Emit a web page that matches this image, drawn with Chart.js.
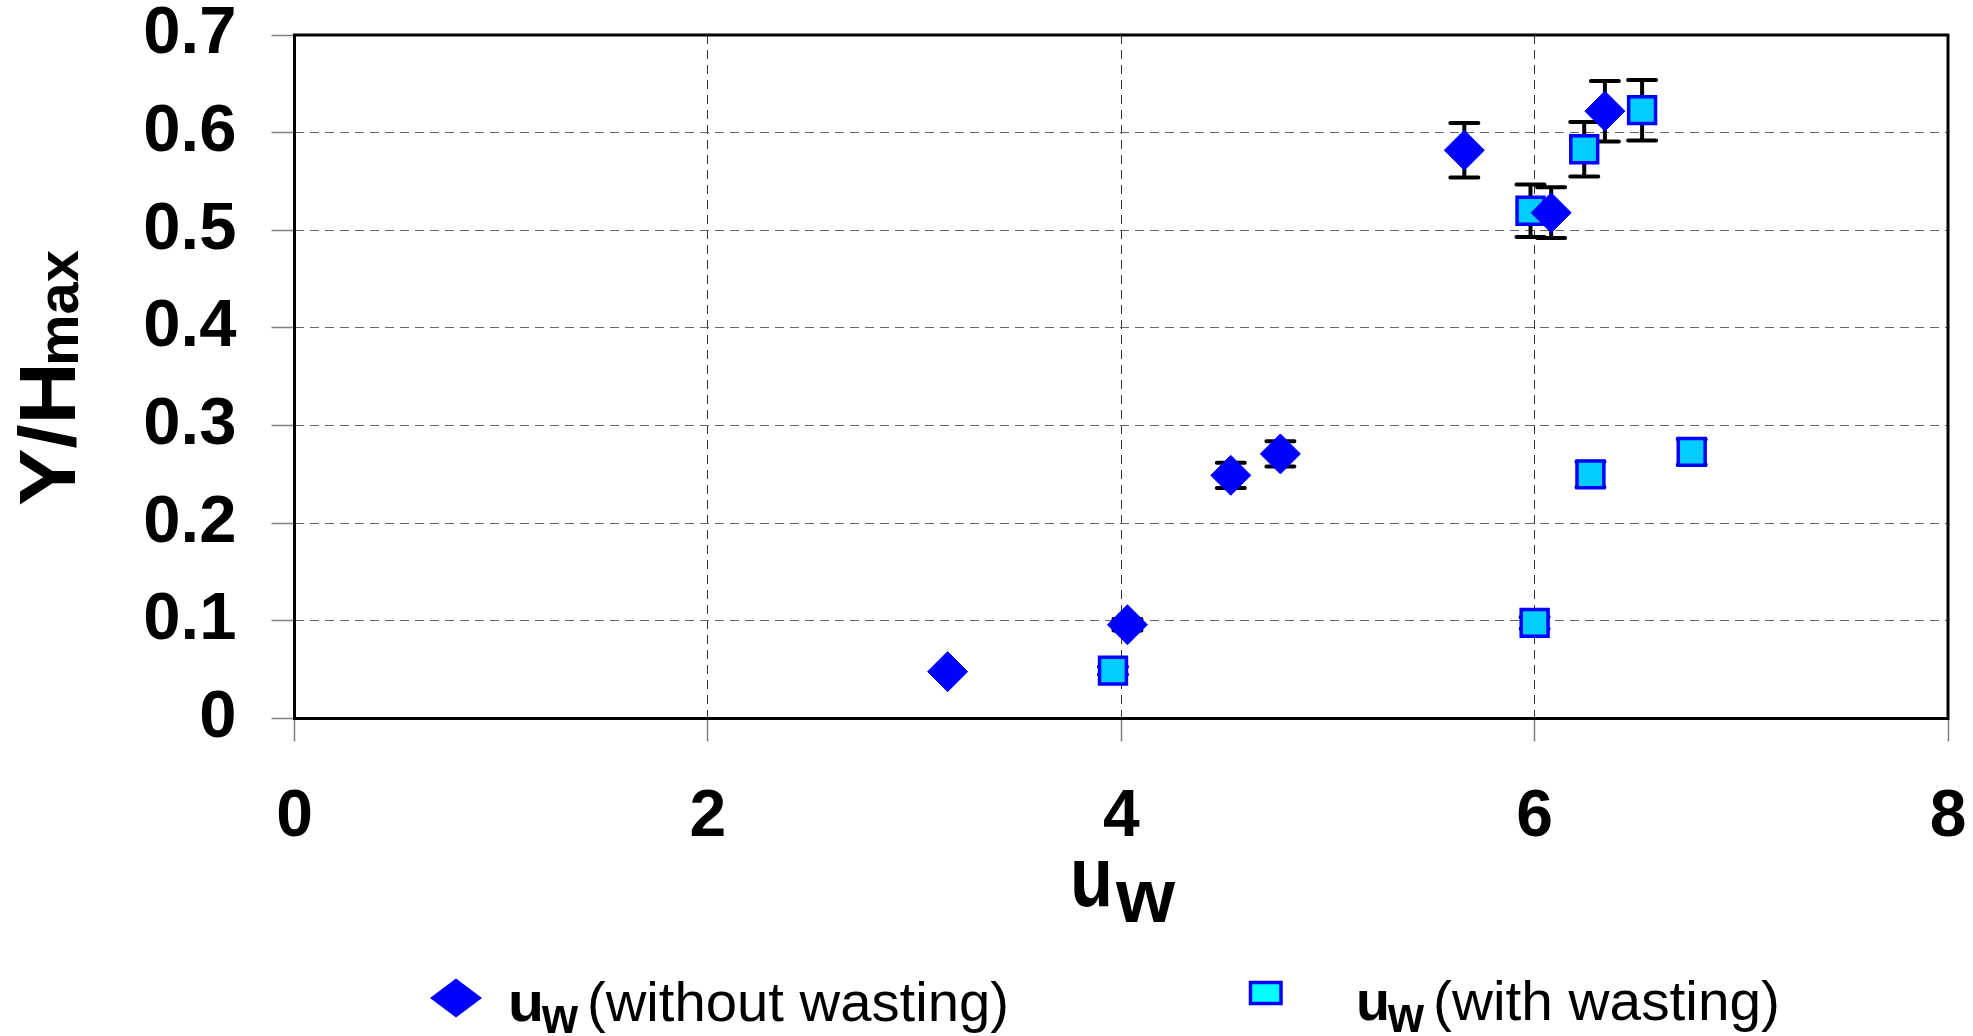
<!DOCTYPE html>
<html>
<head>
<meta charset="utf-8">
<script src="https://cdn.jsdelivr.net/npm/chart.js@4.4.1/dist/chart.umd.min.js"></script>
<style>
  html, body { margin: 0; padding: 0; background: #ffffff; }
  #wrap { width: 1973px; height: 1036px; }
  canvas { display: block; }
</style>
</head>
<body>
<div id="wrap"><canvas id="chart" width="1973" height="1036"></canvas></div>
<script>
// Tick labels
const xTickLabels = ['0', '2', '4', '6', '8'];
const yTickLabels = ['0', '0.1', '0.2', '0.3', '0.4', '0.5', '0.6', '0.7'];

// u_w without wasting: wind speed, relative height, error half-width
const noWasteU   = [3.16, 4.03, 4.53, 4.77, 5.66, 6.08, 6.34];
const noWasteY   = [0.048, 0.096, 0.249, 0.271, 0.582, 0.518, 0.622];
const noWasteErr = [0, 0.006, 0.013, 0.013, 0.028, 0.026, 0.031];

// u_w with wasting
const wasteU   = [3.96, 6.00, 6.27, 6.76, 5.98, 6.24, 6.52];
const wasteY   = [0.049, 0.098, 0.250, 0.273, 0.520, 0.583, 0.623];
const wasteErr = [0.004, 0.006, 0.013, 0.013, 0.027, 0.028, 0.031];

// Series names: symbol, subscript, note
const seriesSymbol = ['u', 'u'];
const seriesSub    = ['w', 'w'];
const seriesNotes  = ['(without wasting)', '(with wasting)'];

// Axis titles: main text and subscript
const xTitle = ['u', 'w'];
const yTitle = ['Y/H', 'max'];

const FONT = '"Liberation Sans", Arial, Helvetica, sans-serif';

function toPoints(xs, ys) {
  return xs.map((x, i) => ({ x: x, y: ys[i] }));
}

// Draws text stretched/condensed so its advance spans [x0, x1]
function fitText(ctx, str, x0, x1, baseline, font) {
  ctx.save();
  ctx.font = font;
  const w = ctx.measureText(str).width;
  const sx = (x1 - x0) / w;
  ctx.translate(x0, baseline);
  ctx.scale(sx, 1);
  ctx.textAlign = 'left';
  ctx.textBaseline = 'alphabetic';
  ctx.fillStyle = '#000000';
  ctx.fillText(str, 0, 0);
  ctx.restore();
}

// Same as fitText but reading bottom to top; y0 is the start (bottom), y1 the end (top)
function fitTextUp(ctx, str, y0, y1, baselineX, font) {
  ctx.save();
  ctx.font = font;
  const w = ctx.measureText(str).width;
  const sx = (y0 - y1) / w;
  ctx.translate(baselineX, y0);
  ctx.rotate(-Math.PI / 2);
  ctx.scale(sx, 1);
  ctx.textAlign = 'left';
  ctx.textBaseline = 'alphabetic';
  ctx.fillStyle = '#000000';
  ctx.fillText(str, 0, 0);
  ctx.restore();
}

// Keep tick-label overhang from pushing the plot area inwards
function clearScalePadding(s) {
  s.paddingTop = 0;
  s.paddingBottom = 0;
  s.paddingLeft = 0;
  s.paddingRight = 0;
}

const errorSets = [noWasteErr, wasteErr];

// Plot frame and vertical error bars, drawn beneath the markers
const framePlugin = {
  id: 'frameAndErrors',
  beforeDatasetsDraw(chart) {
    const ctx = chart.ctx;
    const a = chart.chartArea;
    const xs = chart.scales.x, ys = chart.scales.y;

    ctx.save();
    ctx.strokeStyle = '#000000';
    ctx.lineWidth = 3;
    ctx.strokeRect(a.left, a.top, a.right - a.left, a.bottom - a.top);
    ctx.restore();

    ctx.save();
    ctx.strokeStyle = '#000000';
    ctx.lineWidth = 4;
    ctx.lineCap = 'round';
    const cap = 14;
    chart.data.datasets.forEach((ds, di) => {
      const errs = errorSets[di];
      ds.data.forEach((p, i) => {
        const e = errs[i];
        if (!e) return;
        const px = xs.getPixelForValue(p.x);
        const yt = ys.getPixelForValue(p.y + e);
        const yb = ys.getPixelForValue(p.y - e);
        ctx.beginPath();
        ctx.moveTo(px, yt); ctx.lineTo(px, yb);
        ctx.moveTo(px - cap, yt); ctx.lineTo(px + cap, yt);
        ctx.moveTo(px - cap, yb); ctx.lineTo(px + cap, yb);
        ctx.stroke();
      });
    });
    ctx.restore();
  }
};

// Axis titles with subscripts and the legend row
const textPlugin = {
  id: 'titlesAndLegend',
  afterDraw(chart) {
    const ctx = chart.ctx;

    // x title
    fitText(ctx, xTitle[0], 1070, 1113, 906, 'bold 86px ' + FONT);
    fitText(ctx, xTitle[1], 1116, 1175, 922, 'bold 76px ' + FONT);

    // y title
    fitTextUp(ctx, yTitle[0], 506, 362, 75, 'bold 80px ' + FONT);
    fitTextUp(ctx, yTitle[1], 366, 250, 78, 'bold 58px ' + FONT);

    // legend markers
    const d0 = chart.data.datasets[0], d1 = chart.data.datasets[1];
    ctx.save();
    ctx.fillStyle = d0.backgroundColor;
    ctx.beginPath();
    ctx.moveTo(456 - 26, 998);
    ctx.lineTo(456, 998 - 19.5);
    ctx.lineTo(456 + 26, 998);
    ctx.lineTo(456, 998 + 19.5);
    ctx.closePath();
    ctx.fill();

    ctx.fillStyle = '#00FFFF';
    ctx.strokeStyle = d1.borderColor;
    ctx.lineWidth = 3.5;
    ctx.fillRect(1250.5, 982.5, 30.5, 21);
    ctx.strokeRect(1250.5, 982.5, 30.5, 21);
    ctx.restore();

    // legend texts
    fitText(ctx, seriesSymbol[0], 508, 544, 1021, 'bold 56px ' + FONT);
    fitText(ctx, seriesSub[0], 542, 578, 1033, 'bold 52px ' + FONT);
    fitText(ctx, seriesNotes[0], 587, 1009, 1021, '55px ' + FONT);

    fitText(ctx, seriesSymbol[1], 1356, 1390, 1020, 'bold 56px ' + FONT);
    fitText(ctx, seriesSub[1], 1388, 1424, 1032, 'bold 52px ' + FONT);
    fitText(ctx, seriesNotes[1], 1433, 1780, 1020, '55px ' + FONT);
  }
};

new Chart(document.getElementById('chart'), {
  type: 'scatter',
  data: {
    datasets: [
      {
        label: seriesSymbol[0] + seriesSub[0] + ' ' + seriesNotes[0],
        data: toPoints(noWasteU, noWasteY),
        pointStyle: 'rectRot',
        pointRadius: 20,
        backgroundColor: '#0000FF',
        borderColor: '#0000FF',
        borderWidth: 1,
        showLine: false
      },
      {
        label: seriesSymbol[1] + seriesSub[1] + ' ' + seriesNotes[1],
        data: toPoints(wasteU, wasteY),
        pointStyle: 'rect',
        pointRadius: 19,
        backgroundColor: '#00CCFF',
        borderColor: '#0000FF',
        borderWidth: 3.5,
        showLine: false
      }
    ]
  },
  options: {
    responsive: false,
    devicePixelRatio: 1,
    animation: false,
    events: [],
    layout: { padding: { top: 35, right: 25, left: 0, bottom: 0 } },
    plugins: {
      legend: { display: false },
      tooltip: { enabled: false },
      title: { display: false }
    },
    scales: {
      x: {
        type: 'linear',
        position: 'bottom',
        min: 0,
        max: 8,
        afterFit(s) { s.height = 317.5; clearScalePadding(s); },
        ticks: {
          stepSize: 2,
          color: '#000000',
          padding: 37,
          font: { family: FONT, size: 66, weight: 'bold', lineHeight: 1.2 },
          callback: (v, i) => xTickLabels[i]
        },
        grid: {
          color: '#333333',
          lineWidth: 1,
          tickLength: 23,
          tickColor: '#808080',
          tickWidth: 1.5
        },
        border: { display: false, dash: [9, 6] }
      },
      y: {
        type: 'linear',
        min: 0,
        max: 0.7,
        afterFit(s) { s.width = 294.5; clearScalePadding(s); },
        ticks: {
          stepSize: 0.1,
          color: '#000000',
          padding: 35,
          font: { family: FONT, size: 67, weight: 'bold', lineHeight: 1 },
          callback: (v, i) => yTickLabels[i]
        },
        grid: {
          color: '#666666',
          lineWidth: 1,
          tickLength: 23,
          tickColor: '#808080',
          tickWidth: 1.5
        },
        border: { display: false, dash: [9, 6] }
      }
    }
  },
  plugins: [framePlugin, textPlugin]
});
</script>
</body>
</html>
